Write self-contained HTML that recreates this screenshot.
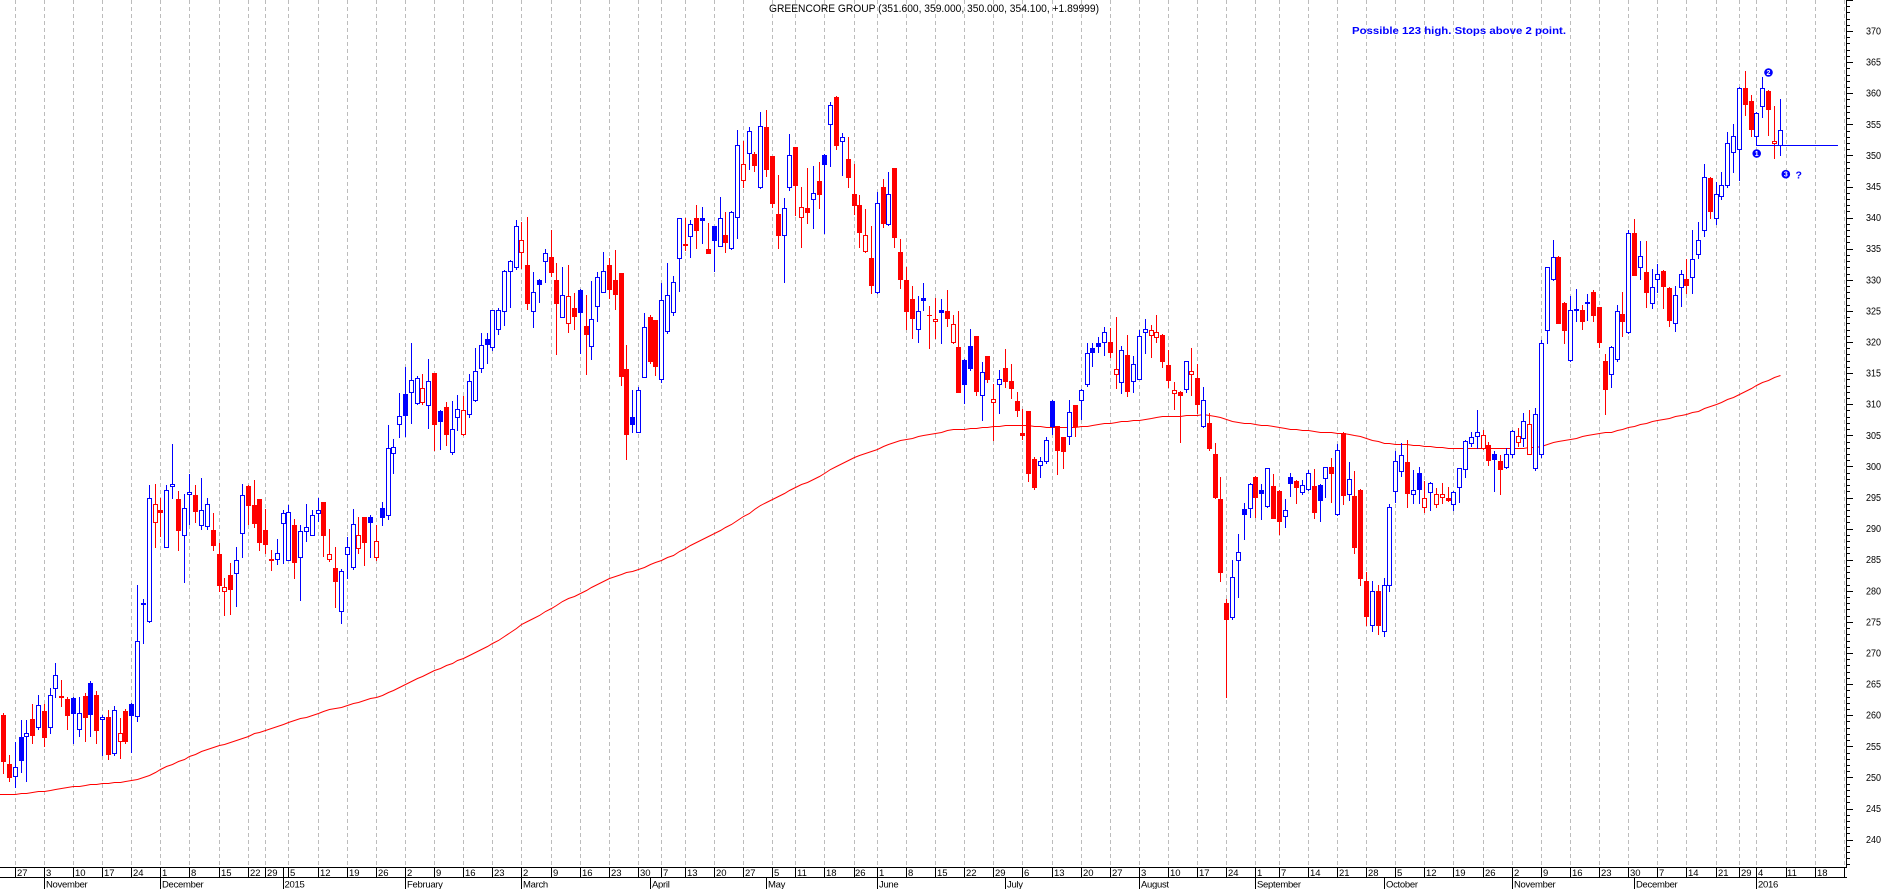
<!DOCTYPE html>
<html><head><meta charset="utf-8"><style>
html,body{margin:0;padding:0;background:#fff;width:1883px;height:889px;overflow:hidden}
svg{position:absolute;left:0;top:0}
text{font-family:"Liberation Sans",Arial,sans-serif;fill:#000}
.d{font-size:9.5px}
.m{font-size:9.5px;letter-spacing:-0.3px}
.p{font-size:10px}
</style></head><body>
<svg id="s" width="1883" height="889" viewBox="0 0 1883 889" xmlns="http://www.w3.org/2000/svg">
<rect x="0" y="0" width="1883" height="889" fill="#fff"/>
<g id="grid" shape-rendering="crispEdges"></g>
<polyline id="ma" fill="none" stroke="#ff0000" stroke-width="1" points="0,794 1779,374"/>
<g id="c" shape-rendering="crispEdges"></g>
<rect x="1757" y="145" width="81" height="1" fill="#0000ff" shape-rendering="crispEdges"/>
<g id="ax" shape-rendering="crispEdges"></g>

<text x="769" y="12" font-size="11" textLength="330" lengthAdjust="spacingAndGlyphs">GREENCORE GROUP (351.600, 359.000, 350.000, 354.100, +1.89999)</text>
<text x="1352" y="34" font-size="10.5" font-weight="bold" style="fill:#0000ff" textLength="214" lengthAdjust="spacingAndGlyphs">Possible 123 high. Stops above 2 point.</text>

<circle cx="1756.7" cy="153.5" r="4.3" fill="#0000ff"/>
<text x="1756.7" y="156" font-size="7" font-weight="bold" text-anchor="middle" style="fill:#fff">1</text>
<circle cx="1768.5" cy="72.5" r="4.3" fill="#0000ff"/>
<text x="1768.5" y="75" font-size="7" font-weight="bold" text-anchor="middle" style="fill:#fff">2</text>
<circle cx="1785.8" cy="174.2" r="4.3" fill="#0000ff"/>
<text x="1785.8" y="176.7" font-size="7" font-weight="bold" text-anchor="middle" style="fill:#fff">3</text>
<text x="1795.5" y="178.3" font-size="10.5" font-weight="bold" style="fill:#0000ff">?</text>

<g class="p">
<text x="1866" y="34.5" textLength="15" lengthAdjust="spacingAndGlyphs">370</text>
<text x="1866" y="65.6" textLength="15" lengthAdjust="spacingAndGlyphs">365</text>
<text x="1866" y="96.7" textLength="15" lengthAdjust="spacingAndGlyphs">360</text>
<text x="1866" y="127.8" textLength="15" lengthAdjust="spacingAndGlyphs">355</text>
<text x="1866" y="158.9" textLength="15" lengthAdjust="spacingAndGlyphs">350</text>
<text x="1866" y="190" textLength="15" lengthAdjust="spacingAndGlyphs">345</text>
<text x="1866" y="221.1" textLength="15" lengthAdjust="spacingAndGlyphs">340</text>
<text x="1866" y="252.2" textLength="15" lengthAdjust="spacingAndGlyphs">335</text>
<text x="1866" y="283.3" textLength="15" lengthAdjust="spacingAndGlyphs">330</text>
<text x="1866" y="314.4" textLength="15" lengthAdjust="spacingAndGlyphs">325</text>
<text x="1866" y="345.5" textLength="15" lengthAdjust="spacingAndGlyphs">320</text>
<text x="1866" y="376.6" textLength="15" lengthAdjust="spacingAndGlyphs">315</text>
<text x="1866" y="407.7" textLength="15" lengthAdjust="spacingAndGlyphs">310</text>
<text x="1866" y="438.8" textLength="15" lengthAdjust="spacingAndGlyphs">305</text>
<text x="1866" y="469.9" textLength="15" lengthAdjust="spacingAndGlyphs">300</text>
<text x="1866" y="501" textLength="15" lengthAdjust="spacingAndGlyphs">295</text>
<text x="1866" y="532.1" textLength="15" lengthAdjust="spacingAndGlyphs">290</text>
<text x="1866" y="563.2" textLength="15" lengthAdjust="spacingAndGlyphs">285</text>
<text x="1866" y="594.3" textLength="15" lengthAdjust="spacingAndGlyphs">280</text>
<text x="1866" y="625.4" textLength="15" lengthAdjust="spacingAndGlyphs">275</text>
<text x="1866" y="656.5" textLength="15" lengthAdjust="spacingAndGlyphs">270</text>
<text x="1866" y="687.6" textLength="15" lengthAdjust="spacingAndGlyphs">265</text>
<text x="1866" y="718.7" textLength="15" lengthAdjust="spacingAndGlyphs">260</text>
<text x="1866" y="749.8" textLength="15" lengthAdjust="spacingAndGlyphs">255</text>
<text x="1866" y="780.9" textLength="15" lengthAdjust="spacingAndGlyphs">250</text>
<text x="1866" y="812" textLength="15" lengthAdjust="spacingAndGlyphs">245</text>
<text x="1866" y="843.1" textLength="15" lengthAdjust="spacingAndGlyphs">240</text>
</g>

<g class="d">
<text x="17" y="876">27</text><text x="46" y="876">3</text><text x="75" y="876">10</text><text x="104" y="876">17</text><text x="133" y="876">24</text>
<text x="162" y="876">1</text><text x="191" y="876">8</text><text x="221" y="876">15</text><text x="250" y="876">22</text><text x="267" y="876">29</text>
<text x="290" y="876">5</text><text x="320" y="876">12</text><text x="349" y="876">19</text><text x="378" y="876">26</text>
<text x="407" y="876">2</text><text x="436" y="876">9</text><text x="465" y="876">16</text><text x="494" y="876">23</text>
<text x="523" y="876">2</text><text x="553" y="876">9</text><text x="582" y="876">16</text><text x="611" y="876">23</text><text x="640" y="876">30</text>
<text x="663" y="876">7</text><text x="687" y="876">13</text><text x="716" y="876">20</text><text x="745" y="876">27</text>
<text x="774" y="876">5</text><text x="797" y="876">11</text><text x="826" y="876">18</text><text x="855" y="876">26</text>
<text x="879" y="876">1</text><text x="908" y="876">8</text><text x="937" y="876">15</text><text x="966" y="876">22</text><text x="995" y="876">29</text>
<text x="1024" y="876">6</text><text x="1054" y="876">13</text><text x="1083" y="876">20</text><text x="1112" y="876">27</text>
<text x="1141" y="876">3</text><text x="1170" y="876">10</text><text x="1199" y="876">17</text><text x="1228" y="876">24</text>
<text x="1257" y="876">1</text><text x="1281" y="876">7</text><text x="1310" y="876">14</text><text x="1339" y="876">21</text><text x="1368" y="876">28</text>
<text x="1397" y="876">5</text><text x="1426" y="876">12</text><text x="1455" y="876">19</text><text x="1485" y="876">26</text>
<text x="1514" y="876">2</text><text x="1543" y="876">9</text><text x="1572" y="876">16</text><text x="1601" y="876">23</text><text x="1630" y="876">30</text>
<text x="1659" y="876">7</text><text x="1688" y="876">14</text><text x="1718" y="876">21</text><text x="1741" y="876">29</text>
<text x="1758" y="876">4</text><text x="1787" y="876">11</text><text x="1817" y="876">18</text>
</g>
<svg x="0" y="860" width="1846" height="29" overflow="hidden"><text class="d" x="1846" y="16">25</text></svg>

<g class="m">
<text x="46" y="887.5">November</text>
<text x="162" y="887.5">December</text>
<text x="284.5" y="887.5">2015</text>
<text x="407" y="887.5">February</text>
<text x="523" y="887.5">March</text>
<text x="652" y="887.5">April</text>
<text x="768" y="887.5">May</text>
<text x="879" y="887.5">June</text>
<text x="1007" y="887.5">July</text>
<text x="1141" y="887.5">August</text>
<text x="1257" y="887.5">September</text>
<text x="1386" y="887.5">October</text>
<text x="1514" y="887.5">November</text>
<text x="1636" y="887.5">December</text>
<text x="1758" y="887.5">2016</text>
</g>
</svg>
<script>
(function(){
var D=[
[260,260.3,250.7,252.7],[252.2,253.6,249.4,250],
[250.2,255.7,248.5,251.7],[256.5,259.2,250.9,252.8],[256.7,259.2,249.4,257.1],[259.4,261.8,255.5,256.8],[258.1,263.2,257.8,261.7],
[260.6,261.8,255,256.5],[258.1,264.4,257.1,263.2],[264.4,268.4,263,266.4],[263.1,265.6,261.4,263],[262.6,263,257.8,260],
[262.8,263,255.5,260.3],[257.8,263,256.7,260.4],[263.1,263.5,255.8,259.7],[265.2,265.5,256.7,260.2],[263.3,263.9,255.5,257.6],
[259.4,260,253.6,259.7],[259.7,260.8,253,253.8],[254,261.5,253.6,260.8],[255.8,259.6,253.1,257.1],[260.7,261,255.5,255.8],
[261.8,262,254.1,260],[259.9,280.9,259,272],[277.9,278.7,271.6,278.1],[275.1,297,275,294.9],[291,297.2,287,294],
[293,294.9,288.8,292.7],[287,297,287,296.2],[296.9,303.6,295,297.2],[294.8,296,286.5,289.8],[289,295.5,281.4,293.3],
[295.6,298.8,290.8,295.9],[295.4,297,291,292.8],[290.6,298.1,290,293],[290.4,295,290,294],[289.8,292.5,286.5,287.4],
[285.9,287.7,280,280.9],[280,282,276.1,280.6],[282.5,284.5,276.2,280.3],[282.9,287,277.5,285],[289.3,297.2,285.5,295.4],
[296.9,297,290.8,293.8],[293.8,297.8,290.2,290.9],[294.8,294.8,286.5,287.8],[289.8,293.2,286.1,287.5],[285.1,286.6,283.4,285],
[285.1,288.3,284.3,286.1],[290.9,293,284.5,292.5],[285,293.8,285,292.7],[290.6,291.5,282,284.6],[285.4,290.6,278.5,289.6],
[289.6,294,288,290.3],[289,293,289,292.2],[292.5,294.9,291.3,293],[294.3,294.3,285.6,289],[285.1,289.9,284.8,285.9],
[283.7,287,277.4,281.6],[276.8,283.5,274.8,283.2],[285.9,288.6,282.1,287],[283.8,293.2,283.5,290.7],[286.9,291.9,286,289],
[291.9,291.9,284.1,287.8],[291.9,292.2,285.4,291.1],[285.4,290.6,285,288],[293.3,294.3,290.6,291.9],[292.2,306.7,291.5,303],
[302.2,304.4,299,303.1],[306.8,311.8,304.7,308.1],[311.6,316,304.9,308.3],[312,319.8,307,313.9],[310.2,314.5,310,314.2],
[310.4,314.9,310,312.6],[309.9,317.3,306.2,313.7],[315,315,302.6,306.8],[308.9,309.1,302.8,307.3],[309.6,310.4,303.4,305.2],
[302.3,310.5,302,306],[307.9,311.5,305.8,309.3],[305.2,311.3,305,309.1],[308.4,314.9,307.9,313.7],[310.7,319,310.5,315.3],
[315.8,321.4,315.2,319.5],[320.5,321.4,316.6,319.7],[319.2,325.2,318.7,325.1],[322.1,325.5,321.3,325.2],[325,331.5,322.7,331.4],
[331.4,333.2,325.6,333],[332,339.6,331.7,338.6],[334.5,339.3,331.9,336.4],[332.4,340.1,325.3,326.3],[325,331.3,322.4,328],
[330,330.2,326.4,329.3],[333,335,329.6,334.3],[333.7,338,330.6,331.3],[330,332.7,318.1,326.3],[324,332,324,327.6],
[323.1,332.4,321.6,327.4],[325.5,327.9,322.1,324.2],[328.4,328.5,318.2,324.8],[322.6,327.6,314.9,321.3],[319.4,329.8,317.3,323.7],
[325.8,331.3,323.4,330.4],[328,334.5,328,331.4],[332.4,333.5,327.1,328.5],[330,334.8,325.3,327.7],[331.1,331.1,313.1,314.5],
[315.7,319.5,301.2,305.2],[307.9,312.3,305.5,306.8],[305.5,312.8,305.5,312.3],[314.4,324.7,314.4,322.4],[324,324.3,316.6,316.9],
[323.5,323.5,314.7,316.1],[314,329.5,313.6,326.7],[321.8,332.7,321.5,327.5],[324.8,330.6,324.4,329.6],[333.5,339.9,328.2,339.9],
[335.8,339.9,334.8,335.6],[337,339.6,333.7,339],[339.9,342,335.1,338],[339.9,341.7,335.9,339.6],[335,339.1,334.3,334.3],
[338.6,338.6,331.4,336.4],[335.4,343.3,335.4,339.9],[337.2,340.9,334.5,336.1],[335.1,341,334.9,340.9],[340.1,354.1,336.7,351.7],
[346,352.3,345,348.6],[350.4,354.6,347.8,353.9],[350.2,350.5,347.5,348.5],[345,357,344.8,354.7],[354.6,357.3,346.7,347.8],
[349.9,349.9,341.7,342.3],[340.6,346.8,335.1,337.2],[337.2,343.2,329.6,341.5],[344.9,353.4,344.5,350],[351.4,351.4,340.4,345.2],
[340.1,344.9,335.3,341.7],[341.5,348,339.1,340.9],[343,348.3,338.3,344],[345.9,348.9,341.5,343.8],[350,350.2,337.5,348.6],
[355,358.6,348.3,358.1],[359.4,359.6,351,351.7],[352.3,353.6,346.8,353],[349.4,353,345,346.5],[343.8,348.6,340.6,342],
[342,343.6,335.3,337.7],[334.6,341.4,334.4,337.2],[333.5,338.6,327.9,329.2],[328,344.1,327.8,342.3],[344.9,346.2,338.5,339.1],
[339,347.3,338.8,343.8],[348,348,335.3,336.9],[334.5,336.6,328.7,330.1],[330,332,322.1,325],[326.9,329,320.6,323.9],
[322.1,327.4,320,325],[327.1,329.5,325.1,326.8],[324.4,325.8,319,324.3],[323.4,327.1,320.6,323.7],[325.2,326.9,319.8,324.9],
[325,328.4,322.6,323.9],[320,324.3,319.8,322.9],[319.2,325,312,312],[317.1,317.3,310.2,313.2],[319.4,322.1,315.5,315.8],
[321,321,311.5,312.1],[311.5,316.8,307.5,315.2],[317.7,317.7,313.5,314],[310.4,313.2,304.2,310.8],[313.2,315.5,308.6,314],
[315.8,318.9,312.8,313.7],[313.7,316.5,311,312.6],[310.5,312,308.1,309.1],[305.3,309.2,304.4,305.1],[308.9,308.9,297.7,298.9],
[301.2,301.5,296.4,296.7],[300.2,301.5,298.3,300.9],[300.9,304.7,300.5,304.2],[310.5,310.7,305.2,306.5],[306.5,306.5,298.8,302.6],
[304.7,304.8,299.7,302.4],[304.9,310.7,303.6,308.7],[309.9,309.9,304.9,306.5],[310.7,312.4,307.6,312.3],[313.2,319.8,313,318.2],
[319,319.8,316.1,318.4],[319.8,320.8,318.4,319.3],[320,322.4,317.9,321.6],[320,322.3,317.6,318.4],[314.9,324,312.6,315.7],
[313.6,319.4,311.8,318.7],[317.9,321.1,311.3,312.1],[313.7,317.7,312,316.5],[314.1,321.9,314,321],[321.6,323.7,318.2,322.1],
[321.1,322.7,317.6,321.9],[320.8,324.3,320,321.6],[321.1,321.3,316,316.9],[316.3,318.7,312.8,313.9],[311.8,313.6,309.2,312.3],
[312,312.2,303.9,311.5],[312.4,317,312,316.9],[314.9,319,311.5,315.3],[314.2,316.5,308.6,310],[306.5,312.8,306.3,310.7],
[307,308.6,302.6,303],[302,303.8,295,295.1],[294.8,298.3,281.6,283],[278,278.7,263,275.5],[275.8,285,275.5,282.2],
[285,289.1,279,286.2],[293.2,294.1,288.3,292.3],[293.3,297.3,291.9,297.2],[298.3,298.5,291.9,295.1],[296.2,297.2,291.5,295.7],
[293.6,299.8,293.5,299.7],[296.9,298.8,291.7,291.7],[296.1,296.2,289.1,291.2],[292,294.8,290.3,293],[298.3,298.9,295.2,297.3],
[297.7,297.8,294.1,296.7],[295.9,297.8,295.5,297],[296.4,299.4,296.2,298.9],[296.9,299.6,291.7,292.6],[297,297.1,291.2,294.6],
[298.1,299.9,295.1,299.9],[299.9,301.4,294.3,298.9],[292.3,303.6,292.2,302.6],[305.4,305.6,294,295.4],[295.6,300.7,294.6,298],
[295.3,299.3,286,287],[296.2,296.4,281,282],[281.5,283,274.5,276],[274.5,281.5,273.5,280],[280,281,273,274.5],
[273.5,282,272.8,281],[281,294,280,293.4],[296,302.4,294.2,300.9],[299.3,303.8,298.5,301.8],[300.7,304.2,293.5,295.7],
[295.6,299.4,294.1,296.2],[298.9,299.9,294.1,296.3],[293.5,297.7,292.6,294.9],[295.9,297.5,293,297.3],[294,296.5,293.5,295.6],
[295.1,297.3,294.1,295.5],[294.9,296.7,294.4,294.6],[294,296,293,295.9],[296.7,299.8,294.2,299.7],[299.6,304.2,298.3,304.1],
[303.8,305.6,303.3,304.7],[304.9,309.1,303,305.5],[303,305.9,302.8,305.1],[303.4,303.9,300.3,301],[302,302.4,296.1,301.2],
[300.9,301.8,295.6,299.6],[299.9,302.9,299.7,302],[302,305.8,301.5,305.7],[303.9,306.2,303.3,304.9],[304.6,308.6,303.3,307.3],
[302,309,302,306.8],[299.7,309.4,299.5,308.4],[302,320.3,301.5,319.9],[322,332,319.8,332],[330.1,336.4,330,333.7],
[333.7,333.8,323,323],[326.3,326.4,319.8,322],[317.1,327.4,317,325.1],[325.2,328.5,323.3,325.3],[325.1,326,322.1,323.4],
[326.3,327.7,323.5,326.4],[328,328.4,323.4,324.3],[325.6,325.7,319.2,320],[317,318,308.5,312.4],[314.8,319.3,312.8,319.2],
[317.2,326,317,325],[324.5,328,321,323.3],[321.6,338,321.5,337.6],[337.6,339.8,330.8,330.8],[332,336.2,330.1,333.8],
[331.2,336.2,325.7,328.1],[326.3,331.7,325.4,328.9],[330.1,332.5,328.1,330.9],[331.4,331.5,325.5,329],[328.7,328.8,322.5,323.5],
[323.1,329,321.8,327.5],[328.9,331.6,325.8,331],[330.2,333.3,327.8,329.2],[330.4,338,327.8,333.3],[334.1,339.3,333.5,336.4],
[338,348.6,337,346.5],[346.4,346.5,340,341],[340,345.8,339,343.8],[343.4,347.4,343,345.2],[345.2,353.8,345,352],
[350.6,355,347.4,353.1],[351.1,361,346,360.8],[360.9,363.5,356.5,358.3],[358.7,359.7,353.1,354.3],[353.1,356.9,351.7,356.8],
[358,362.6,356.2,360.9],[360.4,360.5,353.3,357.4],[352,357.9,349.6,352.3],[351.6,359,350,354.1]
];
function Y(p){return 31+(370-p)*6.22;}
function X(i){return Math.round(14.7+5.825*i);}
var s='',prev=D[0][0];
var A=2/201,E=247.25,pts='0,'+Y(E).toFixed(1);
for(var k=0;k<D.length;k++){
 var i=k-2,o=D[k][0],h=D[k][1],l=D[k][2],c=D[k][3];
 var cx=X(i),col=c>=prev?'#0000ff':'#ff0000';prev=c;
 var yh=Math.round(Y(h)),yl=Math.round(Y(l));
 var yt=Math.round(Y(Math.max(o,c))),yb=Math.round(Y(Math.min(o,c)));
 if(yh>yt)yh=yt; if(yl<yb)yl=yb;
 s+='<rect x="'+cx+'" y="'+yh+'" width="1" height="'+(yl-yh+1)+'" fill="'+col+'"/>';
 var bh=Math.max(1,yb-yt+1);
 s+='<rect x="'+(cx-2)+'" y="'+yt+'" width="5" height="'+bh+'" fill="'+col+'"/>';
 if(c>o && yb-yt-1>0) s+='<rect x="'+(cx-1)+'" y="'+(yt+1)+'" width="3" height="'+(yb-yt-1)+'" fill="#fff"/>';
 E+=A*(c-E);
 pts+=' '+(cx+0.5)+','+(Math.round(Y(E))+0.5);
}
document.getElementById('c').innerHTML=s;
document.getElementById('ma').setAttribute('points',pts);

var wk=[0,5,10,15,20,25,30,35,40,43,47,52,57,62,67,72,77,82,87,92,97,102,107,111,115,120,125,130,134,139,144,148,153,158,163,168,173,178,183,188,193,198,203,208,213,217,222,227,232,237,242,247,252,257,262,267,272,277,282,287,292,296,299,304,309,314];
var g='';
for(var j=0;j<wk.length;j++){
 var x=X(wk[j]);
 g+='<line x1="'+(x+0.5)+'" y1="0" x2="'+(x+0.5)+'" y2="867" stroke="#bcbcbc" stroke-width="1" stroke-dasharray="4,3"/>';
}
document.getElementById('grid').innerHTML=g;

var a='';
a+='<rect x="1846" y="0" width="1" height="868" fill="#000"/>';
a+='<rect x="0" y="867" width="1847" height="1" fill="#000"/>';
a+='<rect x="0" y="877" width="1847" height="1" fill="#000"/>';
for(var p=236;p<=375;p++){
 var y=Math.round(Y(p)); if(y<0||y>866)continue;
 a+='<rect x="1847" y="'+y+'" width="'+(p%5===0?6:3)+'" height="1" fill="#000"/>';
}
for(var j=0;j<wk.length;j++){
 var x=X(wk[j]); if(x>1845)continue;
 a+='<rect x="'+x+'" y="867" width="1" height="10" fill="#000"/>';
}
var mo=[5,25,46,67,87,109,129,148,170,193,213,235,257,278,299];
for(var j=0;j<mo.length;j++){
 var x=X(mo[j]);
 var full=(mo[j]===46||mo[j]===299||mo[j]===5||mo[j]===25);
 a+='<rect x="'+x+'" y="'+(full?867:877)+'" width="1" height="'+(full?22:12)+'" fill="#000"/>';
}
document.getElementById('ax').innerHTML=a;
})();
</script>
</body></html>
